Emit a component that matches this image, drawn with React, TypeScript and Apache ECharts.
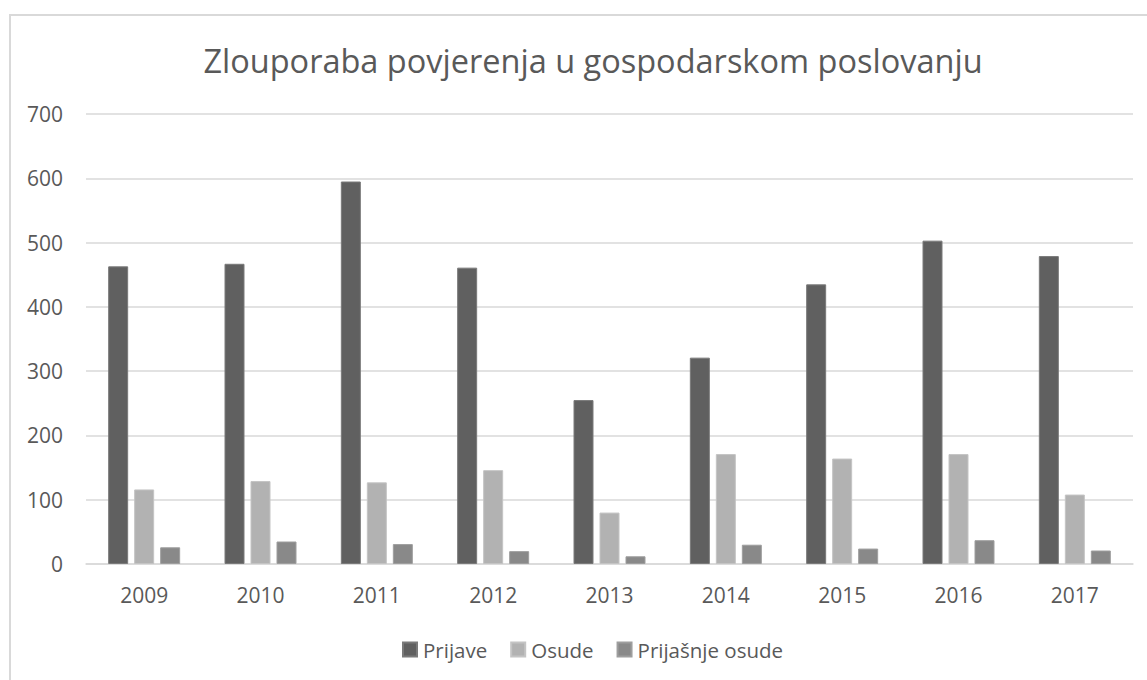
import React, { useEffect, useRef } from "react";
import * as echarts from "echarts";

const years = ["2009", "2010", "2011", "2012", "2013", "2014", "2015", "2016", "2017"];
const prijave = [463, 467, 595, 461, 255, 321, 435, 503, 479];
const osude = [116, 129, 127, 146, 80, 171, 164, 171, 108];
const prijasnjeOsude = [26, 35, 31, 20, 12, 30, 24, 37, 21];
const titleText = "Zlouporaba povjerenja u gospodarskom poslovanju";

const FONT = "'Open Sans', 'Noto Sans', sans-serif";
const TEXT = "#595959";

export default function App() {
  const ref = useRef<HTMLDivElement>(null);
  useEffect(() => {
    if (!ref.current) return;
    const chart = echarts.init(ref.current, null, { renderer: "svg" });
    const barStyle = (color: string, border: string) => ({
      color,
      borderColor: border,
      borderWidth: 1,
    });
    chart.setOption({
      animation: false,
      backgroundColor: "#ffffff",
      textStyle: { fontFamily: FONT },
      title: {
        text: titleText,
        left: 588,
        textAlign: "center",
        top: 34,
        textStyle: { fontFamily: FONT, fontSize: 32.5, fontWeight: "normal", color: TEXT, lineHeight: 42 },
      },
      graphic: [
        {
          type: "rect",
          shape: { x: 10, y: 15, width: 1300, height: 800 },
          style: { fill: "none", stroke: "#d9d9d9", lineWidth: 2 },
          silent: true,
        },
      ],
      legend: {
        left: 397,
        top: 634,
        itemWidth: 14,
        itemHeight: 14,
        itemGap: 23,
        icon: "rect",
        textStyle: { fontFamily: FONT, fontSize: 20.5, color: TEXT, padding: [0, 0, 0, 1] },
        data: ["Prijave", "Osude", "Prijašnje osude"],
      },
      grid: { left: 86, right: 14, top: 114, bottom: 116, containLabel: false },
      xAxis: {
        type: "category",
        data: years,
        axisLine: { show: true, lineStyle: { color: "#d9d9d9", width: 1.5 } },
        axisTick: { show: false },
        axisLabel: { fontFamily: FONT, fontSize: 21, color: TEXT, margin: 18, lineHeight: 25 },
      },
      yAxis: {
        type: "value",
        min: 0,
        max: 700,
        interval: 100,
        axisLine: { show: false },
        axisTick: { show: false },
        splitLine: { lineStyle: { color: "#d9d9d9", width: 1.5 } },
        axisLabel: { fontFamily: FONT, fontSize: 21, color: TEXT, margin: 23 },
      },
      series: [
        { name: "Prijave", type: "bar", data: prijave, barWidth: 20, barGap: "30%", itemStyle: barStyle("#606060", "#7a7a7a") },
        { name: "Osude", type: "bar", data: osude, barWidth: 20, barGap: "30%", itemStyle: barStyle("#b2b2b2", "#c4c4c4") },
        { name: "Prijašnje osude", type: "bar", data: prijasnjeOsude, barWidth: 20, barGap: "30%", itemStyle: barStyle("#898989", "#9e9e9e") },
      ],
    });
    return () => chart.dispose();
  }, []);
  return (
    <div
      ref={ref}
      style={{ position: "fixed", left: 0, top: 0, width: 1147, height: 680, background: "#fff" }}
    />
  );
}
